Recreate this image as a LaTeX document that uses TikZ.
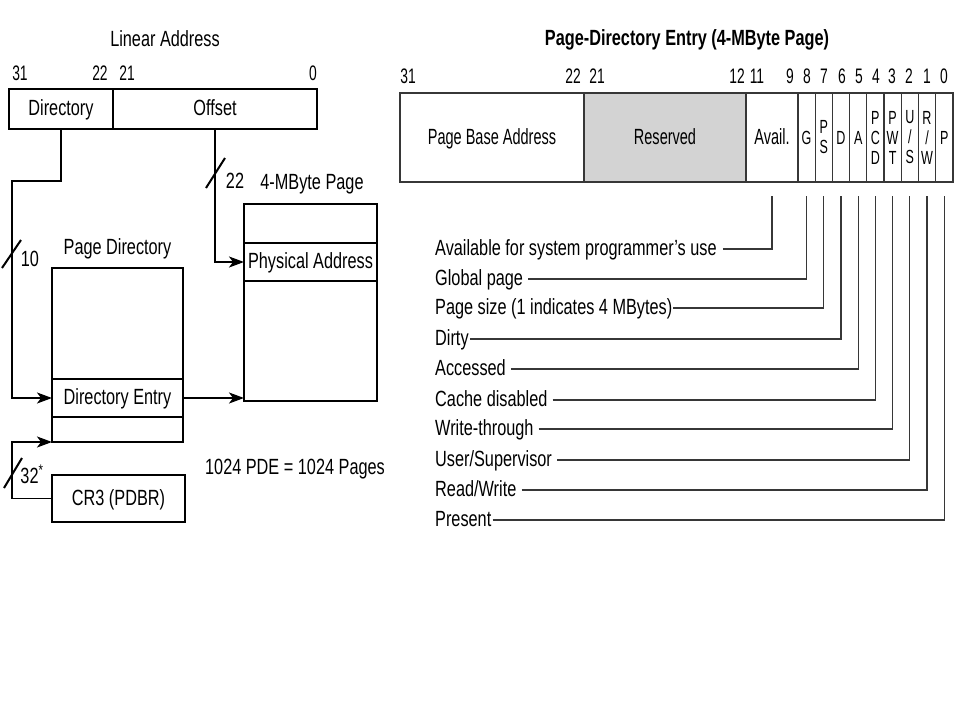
\documentclass[tikz,border=0pt]{standalone}
\usepackage{fontspec}
\setmainfont{Liberation Sans}[FakeStretch=0.74]
\newfontfamily\cellfont{Liberation Sans}[FakeStretch=0.66]
\usetikzlibrary{arrows.meta, positioning}
\definecolor{resgray}{RGB}{211,211,211}
\definecolor{linegray}{RGB}{55,55,55}
\tikzset{
    lbl/.style={font=\fontsize{22}{26}\selectfont, inner sep=0pt, text height=16pt, text depth=3pt},
    title/.style={lbl, font=\bfseries\fontsize{22}{26}\selectfont},
    bitno/.style={font=\cellfont\fontsize{21}{24}\selectfont, inner sep=0pt, text height=15pt, text depth=0pt},
    field/.style={rectangle, draw=black, line width=1.3pt, minimum height=40pt, inner sep=0pt, outer sep=0pt, font=\fontsize{22}{26}\selectfont, text height=16pt, text depth=3pt},
    row/.style={field, minimum height=38pt},
    cell/.style={rectangle, draw=linegray, line width=1.2pt, minimum height=89pt, inner sep=0pt, outer sep=0pt, font=\cellfont\fontsize{22}{26}\selectfont, text height=16pt, text depth=3pt},
    bitcell/.style={cell, minimum width=17.2pt, align=center, text height=, text depth=, font=\cellfont\fontsize{19}{20}\selectfont},
    frame/.style={draw=black, line width=2.6pt},
    arrow/.style={line width=1.6pt, -{Stealth[length=15pt, width=11pt, inset=4pt]}},
    tick/.style={draw=linegray, line width=1.3pt},
    slash/.style={line width=2pt}
}

\begin{document}
\begin{tikzpicture}[x=1pt, y=-1pt]
    \fill[white] (0,0) rectangle (960,720);
    \useasboundingbox (0,0) rectangle (960,720);

    % linear address
    \node (linaddr) [lbl] at (165,40) {Linear Address};
    \node (la31) [bitno] at (20,73) {31};
    \node (la22) [bitno] at (100,73) {22};
    \node (la21) [bitno] at (127,73) {21};
    \node (la0) [bitno] at (313,73) {0};
    \node (dirfield) [field, minimum width=104pt] at (61,109) {Directory};
    \node (offfield) [field, minimum width=204pt, right=0pt of dirfield] {Offset};
    \draw [frame] (dirfield.north west) rectangle (offfield.south east);

    % page directory
    \node (pdlabel) [lbl] at (117.5,248) {Page Directory};
    \node (pdtop) [row, minimum width=131pt, minimum height=111pt] at (117.5,323.5) {};
    \node (pdentry) [row, minimum width=131pt, below=0pt of pdtop] {Directory Entry};
    \node (pdlow) [row, minimum width=131pt, minimum height=25pt, below=0pt of pdentry] {};
    \draw [frame] (pdtop.north west) rectangle (pdlow.south east);

    % 4-MByte page
    \node (pglabel) [lbl] at (312,183) {4-MByte Page};
    \node (pgtop) [row, minimum width=133pt, minimum height=39pt] at (310.5,223.5) {};
    \node (physaddr) [row, minimum width=133pt, below=0pt of pgtop] {Physical Address};
    \node (pglow) [row, minimum width=133pt, minimum height=120pt, below=0pt of physaddr] {};
    \draw [frame] (pgtop.north west) rectangle (pglow.south east);

    % CR3
    \node (cr3) [field, line width=2.6pt, minimum width=133pt, minimum height=47pt] at (118.5,498.5) {CR3 (PDBR)};
    \node (pdecount) [lbl] at (295,468) {1024 PDE = 1024 Pages};

    \coordinate (dirbend) at (12,181);
    \draw [arrow] (dirfield.south) |- (dirbend) |- (pdentry.west);
    \draw [arrow] (offfield.south) |- (physaddr.west);
    \draw [arrow] (pdentry.east) -- (pdentry.east -| pglow.west);
    \draw [arrow] (cr3.west) -| ([xshift=-40pt]pdlow.south west) -- (pdlow.south west);

    \draw [slash] (206,188) -- (225,158);
    \node (w22) [lbl] at (235,182) {22};
    \draw [slash] (2,268) -- (21,240);
    \node (w10) [lbl] at (30,260) {10};
    \draw [slash] (4,488) -- (22,458);
    \node (w32) [lbl] at (32,477) {32\textsuperscript{*}};

    % page-directory entry
    \node (pdetitle) [title] at (687,39) {Page-Directory Entry (4-MByte Page)};
    \node (pba) [cell, minimum width=184pt] at (492,137.5) {Page Base Address};
    \node (reserved) [cell, fill=resgray, minimum width=162pt, right=0pt of pba] {Reserved};
    \node (avail) [cell, minimum width=52pt, right=0pt of reserved] {Avail.};
    \node (bitG) [bitcell, right=0pt of avail] {G};
    \node (bitPS) [bitcell, right=0pt of bitG] {P\\S};
    \node (bitD) [bitcell, right=0pt of bitPS] {D};
    \node (bitA) [bitcell, right=0pt of bitD] {A};
    \node (bitPCD) [bitcell, right=0pt of bitA] {P\\C\\D};
    \node (bitPWT) [bitcell, right=0pt of bitPCD] {P\\W\\T};
    \node (bitUS) [bitcell, right=0pt of bitPWT] {U\\/\\S};
    \node (bitRW) [bitcell, right=0pt of bitUS] {R\\/\\W};
    \node (bitP) [bitcell, right=0pt of bitRW] {P};
    \draw [frame, draw=linegray, line width=2pt] (pba.north west) rectangle (bitP.south east);

    \node (b31) [bitno] at (408,76) {31};
    \node (b22) [bitno] at (573,76) {22};
    \node (b21) [bitno] at (597,76) {21};
    \node (b12) [bitno] at (737,76) {12};
    \node (b11) [bitno] at (757,76) {11};
    \node (b9) [bitno] at (790,76) {9};
    \node (b8) [bitno] at (807,76) {8};
    \node (b7) [bitno] at (824,76) {7};
    \node (b6) [bitno] at (842,76) {6};
    \node (b5) [bitno] at (859,76) {5};
    \node (b4) [bitno] at (876,76) {4};
    \node (b3) [bitno] at (892,76) {3};
    \node (b2) [bitno] at (909,76) {2};
    \node (b1) [bitno] at (927,76) {1};
    \node (b0) [bitno] at (944,76) {0};

    \node (lavail) [lbl, anchor=west] at (435,249) {Available for system programmer's use};
    \node (lglobal) [lbl, anchor=west] at (435,279) {Global page};
    \node (lsize) [lbl, anchor=west] at (435,308) {Page size (1 indicates 4 MBytes)};
    \node (ldirty) [lbl, anchor=west] at (435,339) {Dirty};
    \node (laccess) [lbl, anchor=west] at (435,369) {Accessed};
    \node (lcache) [lbl, anchor=west] at (435,400) {Cache disabled};
    \node (lwrite) [lbl, anchor=west] at (435,429) {Write-through};
    \node (luser) [lbl, anchor=west] at (435,460) {User/Supervisor};
    \node (lrw) [lbl, anchor=west] at (435,490) {Read/Write};
    \node (lpresent) [lbl, anchor=west] at (435,520) {Present};

    \draw [tick] ([xshift=6pt]lavail.east) -| ([yshift=-14pt]avail.south);
    \draw [tick] ([xshift=5pt]lglobal.east) -| ([yshift=-14pt]bitG.south);
    \draw [tick] ([xshift=1pt]lsize.east) -| ([yshift=-14pt]bitPS.south);
    \draw [tick] ([xshift=1pt]ldirty.east) -| ([yshift=-14pt]bitD.south);
    \draw [tick] ([xshift=5pt]laccess.east) -| ([yshift=-14pt]bitA.south);
    \draw [tick] ([xshift=5pt]lcache.east) -| ([yshift=-14pt]bitPCD.south);
    \draw [tick] ([xshift=5pt]lwrite.east) -| ([yshift=-14pt]bitPWT.south);
    \draw [tick] ([xshift=5pt]luser.east) -| ([yshift=-14pt]bitUS.south);
    \draw [tick] ([xshift=5pt]lrw.east) -| ([yshift=-14pt]bitRW.south);
    \draw [tick] ([xshift=1pt]lpresent.east) -| ([yshift=-14pt]bitP.south);
\end{tikzpicture}
\end{document}
